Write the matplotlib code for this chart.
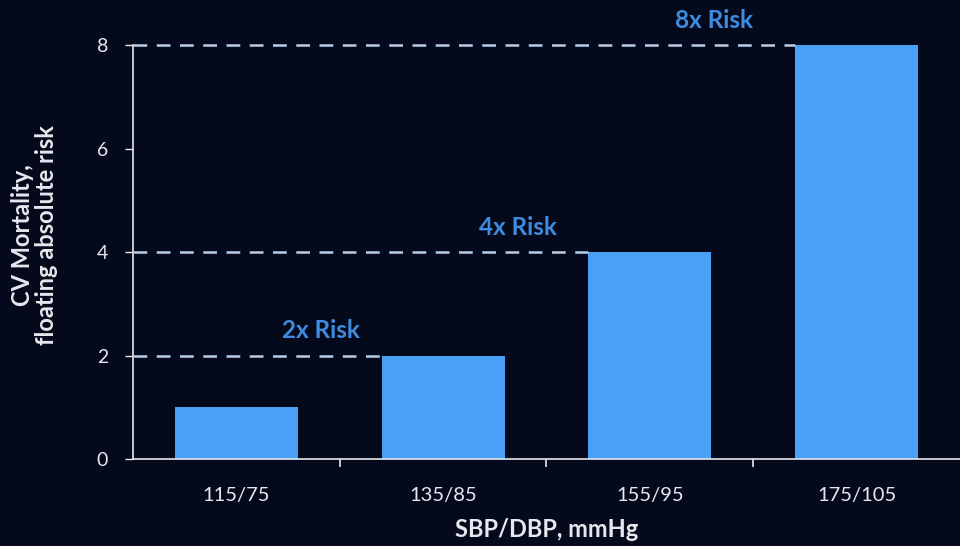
import matplotlib
matplotlib.use("Agg")
import matplotlib.pyplot as plt

# data
categories = ["115/75", "135/85", "155/95", "175/105"]
risk = [1, 2, 4, 8]
callouts = ["", "2x Risk", "4x Risk", "8x Risk"]

bg = "#040a1c"
bar_color = "#4aa0f4"
text_color = "#e6e8ee"
callout_color = "#3d8ce0"
dash_color = "#b9cde8"

plt.rcParams['font.family'] = ['Lato', 'DejaVu Sans']

fig = plt.figure(figsize=(9.6, 5.46), dpi=100)
fig.patch.set_facecolor(bg)
ax = fig.add_axes([0.1385, 0.1593, 0.8615, 0.7582])
ax.set_facecolor(bg)

x = list(range(len(categories)))
width = 0.595
ax.bar(x, risk, width=width, color=bar_color, zorder=2)

# dashed guide lines + callouts for the multiples
for i, (v, lab) in enumerate(zip(risk, callouts)):
    if not lab:
        continue
    ax.plot([-0.5, i - width / 2], [v, v], color=dash_color, lw=1.8,
            dashes=(5.5, 3.8), zorder=3, clip_on=False)
    ax.text(0.41 + 0.95 * (i - 1), v + 0.48, lab, color=callout_color, fontsize=17.5,
            fontweight="bold", ha="center", va="center", clip_on=False)

ax.set_xlim(-0.5, 3.5)
ax.set_ylim(0, 8)

ax.set_yticks([0, 2, 4, 6, 8])
ax.tick_params(axis="y", colors=text_color, labelsize=14, length=6, width=1, pad=12)

# ticks between categories, labels centered under bars
ax.set_xticks([0.5, 1.5, 2.5])
ax.set_xticklabels([])
ax.tick_params(axis="x", which="major", colors=text_color, length=6, width=1.2)
ax.set_xticks(x, minor=True)
ax.set_xticklabels(categories, minor=True)
ax.tick_params(axis="x", which="minor", colors=text_color, labelsize=14.5, length=0, pad=20)

for side in ["top", "right"]:
    ax.spines[side].set_visible(False)
for side in ["left", "bottom"]:
    ax.spines[side].set_color(text_color)
    ax.spines[side].set_linewidth(1.2)

ax.set_xlabel("SBP/DBP, mmHg", color=text_color, fontsize=17, fontweight="bold")
ax.xaxis.set_label_coords(0.5, -0.143)
ax.set_ylabel("CV Mortality,\nfloating absolute risk", color=text_color, fontsize=17,
              fontweight="bold", linespacing=1.05)
ax.yaxis.set_label_coords(-0.091, 0.54)

plt.savefig("out.png", dpi=100, facecolor=bg)
